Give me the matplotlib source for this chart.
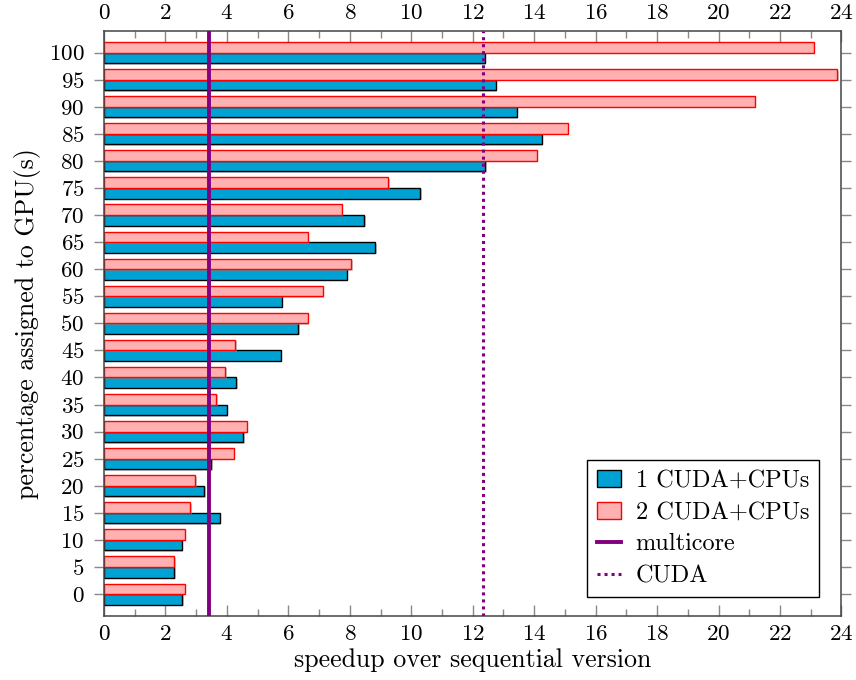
import numpy as np
import matplotlib
matplotlib.use('Agg')
import matplotlib.pyplot as plt
import matplotlib.patheffects as pe
from matplotlib.ticker import MultipleLocator

plt.rcParams['font.family'] = 'serif'
plt.rcParams['font.serif'] = ['cmr10']
plt.rcParams['mathtext.fontset'] = 'cm'
plt.rcParams['axes.formatter.use_mathtext'] = True

# percentage of work given to the GPU(s)
percent = [0, 5, 10, 15, 20, 25, 30, 35, 40, 45, 50, 55, 60, 65, 70, 75, 80, 85, 90, 95, 100]
# speedup with one CUDA device plus CPUs
one_cuda = [2.55, 2.29, 2.53, 3.76, 3.26, 3.49, 4.53, 3.99, 4.31, 5.76, 6.32,
            5.79, 7.91, 8.83, 8.47, 10.29, 12.41, 14.25, 13.44, 12.76, 12.39]
# speedup with two CUDA devices plus CPUs
two_cuda = [2.62, 2.29, 2.62, 2.81, 2.97, 4.23, 4.64, 3.65, 3.95, 4.27, 6.64,
            7.13, 8.05, 6.63, 7.73, 9.25, 14.09, 15.10, 21.18, 23.86, 23.10]
multicore = 3.43
cuda_only = 12.34

blue = '#00a2d3'
pink = '#ffb0b0'
purple = '#800080'
shadow = [pe.SimplePatchShadow(offset=(1, -1), shadow_rgbFace='#999999', alpha=0.5), pe.Normal()]

fig = plt.figure(figsize=(8.56, 6.8), dpi=100)
ax = fig.add_axes([0.1215, 0.0945, 0.8615, 0.8600])

h = 1.95
y = np.array(percent)
b1 = ax.barh(y - h / 2, one_cuda, height=h, color=blue, edgecolor='black', linewidth=1.0,
             label='1 CUDA+CPUs', path_effects=shadow, zorder=2)
b2 = ax.barh(y + h / 2, two_cuda, height=h, color=pink, edgecolor='#ff0000', linewidth=1.0,
             label='2 CUDA+CPUs', path_effects=shadow, zorder=2)
l1 = ax.axvline(multicore, color=purple, linewidth=2.8, label='multicore', zorder=3)
l2 = ax.axvline(cuda_only, color=purple, linewidth=2.2, linestyle=(0, (1, 1.3)), label='CUDA', zorder=3)

ax.set_xlim(0, 24)
ax.set_ylim(-4, 104)
ax.xaxis.set_major_locator(MultipleLocator(2))
ax.xaxis.set_minor_locator(MultipleLocator(1))
ax.set_yticks(percent)

fs = 16.6
ax.tick_params(axis='x', which='both', direction='in', top=True, labeltop=True,
               color='#888888', labelsize=fs, pad=6)
ax.tick_params(axis='x', which='major', length=8, width=1)
ax.tick_params(axis='x', which='minor', length=5, width=1)
ax.tick_params(axis='y', which='major', direction='out', right=True, length=7, width=1,
               color='#888888', labelsize=fs, pad=7)
for s in ax.spines.values():
    s.set_color('#444444')
    s.set_linewidth(1.1)

ax.set_xlabel('speedup over sequential version', fontsize=18.6, labelpad=3)
ax.set_ylabel('percentage assigned to GPU(s)', fontsize=18.6, labelpad=6)

leg = ax.legend(handles=[b1, b2, l1, l2], loc='lower right', bbox_to_anchor=(0.9692, 0.032),
                borderaxespad=0, fontsize=17.5, fancybox=False, edgecolor='black', framealpha=1,
                labelspacing=0.4, handlelength=1.0, borderpad=0.4, handletextpad=0.6)
leg.get_frame().set_linewidth(1.0)

fig.savefig('out.png', dpi=100)
